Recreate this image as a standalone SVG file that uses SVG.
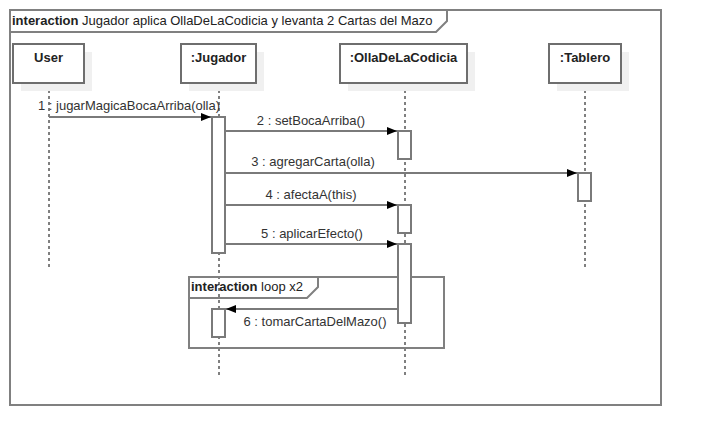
<svg xmlns="http://www.w3.org/2000/svg" width="701" height="445" viewBox="0 0 701 445">
<defs>
<style>
text{font-family:"Liberation Sans",Arial,sans-serif;font-size:13px;fill:#222}
.b{font-weight:bold}
.frame{fill:none;stroke:#808080;stroke-width:2}
.shadow{fill:#f0f0f0;stroke:none}
.box{fill:#fff;stroke:#6e6e6e;stroke-width:2}
.life{stroke:#000;stroke-width:1;stroke-dasharray:3,3;fill:none}
.act{fill:#fff;stroke:#7a7a7a;stroke-width:2}
.msg{stroke:#7a7a7a;stroke-width:2;fill:none;marker-end:url(#arr)}
.lbl{text-anchor:middle;fill:#333}
</style>
<marker id="arr" viewBox="0 0 10 8" refX="10" refY="4" markerWidth="10" markerHeight="8" markerUnits="userSpaceOnUse" orient="auto">
<path d="M0,0 L10,4 L0,8 Z" fill="#000"/>
</marker>
</defs>
<rect x="0" y="0" width="701" height="445" fill="#fff"/>
<g id="frame">
<rect class="frame" x="10" y="10" width="651" height="395"/>
<path class="frame" d="M10,32 H436 L447,21 V10"/>
<text x="12" y="25"><tspan class="b">interaction</tspan> Jugador aplica OllaDeLaCodicia y levanta 2 Cartas del Mazo</text>
</g>
<g id="lifelines">
<line class="life" x1="49" y1="84" x2="49" y2="268"/>
<line class="life" x1="219" y1="84" x2="219" y2="376"/>
<line class="life" x1="405" y1="84" x2="405" y2="376"/>
<line class="life" x1="585" y1="84" x2="585" y2="268"/>
</g>
<g id="User">
<rect class="shadow" x="21" y="52" width="71" height="39"/>
<rect class="box" x="13" y="44" width="71" height="39"/>
<text class="b" x="48.5" y="62" text-anchor="middle">User</text>
</g>
<g id="Jugador">
<rect class="shadow" x="189" y="52" width="75" height="39"/>
<rect class="box" x="181" y="44" width="75" height="39"/>
<text class="b" x="218.5" y="62" text-anchor="middle">:Jugador</text>
</g>
<g id="OllaDeLaCodicia">
<rect class="shadow" x="348" y="52" width="127" height="39"/>
<rect class="box" x="340" y="44" width="127" height="39"/>
<text class="b" x="403.5" y="62" text-anchor="middle">:OllaDeLaCodicia</text>
</g>
<g id="Tablero">
<rect class="shadow" x="557" y="52" width="72" height="39"/>
<rect class="box" x="549" y="44" width="72" height="39"/>
<text class="b" x="585" y="62" text-anchor="middle">:Tablero</text>
</g>
<g id="loop">
<rect class="frame" x="189" y="277" width="255" height="71"/>
<path class="frame" d="M189,298 H307 L318,287 V277"/>
<text x="191" y="291"><tspan class="b">interaction</tspan> loop x2</text>
</g>
<g id="activations">
<rect class="act" x="212" y="117" width="13" height="136"/>
<rect class="act" x="398" y="131" width="13" height="28"/>
<rect class="act" x="578" y="173" width="13" height="28"/>
<rect class="act" x="398" y="205" width="13" height="28"/>
<rect class="act" x="398" y="244" width="13" height="79"/>
<rect class="act" x="212" y="309" width="13" height="28"/>
</g>
<g id="connectors">
<line class="msg" x1="49" y1="117" x2="211" y2="117"/>
<text class="lbl" x="129" y="110">1 : jugarMagicaBocaArriba(olla)</text>
<line class="msg" x1="225" y1="131" x2="397" y2="131"/>
<text class="lbl" x="311" y="125">2 : setBocaArriba()</text>
<line class="msg" x1="225" y1="173" x2="577" y2="173"/>
<text class="lbl" x="313" y="166">3 : agregarCarta(olla)</text>
<line class="msg" x1="225" y1="205" x2="397" y2="205"/>
<text class="lbl" x="311" y="199">4 : afectaA(this)</text>
<line class="msg" x1="225" y1="244" x2="397" y2="244"/>
<text class="lbl" x="312" y="238">5 : aplicarEfecto()</text>
<line class="msg" x1="398" y1="309" x2="226" y2="309"/>
<text class="lbl" x="315" y="326">6 : tomarCartaDelMazo()</text>
</g>
</svg>
